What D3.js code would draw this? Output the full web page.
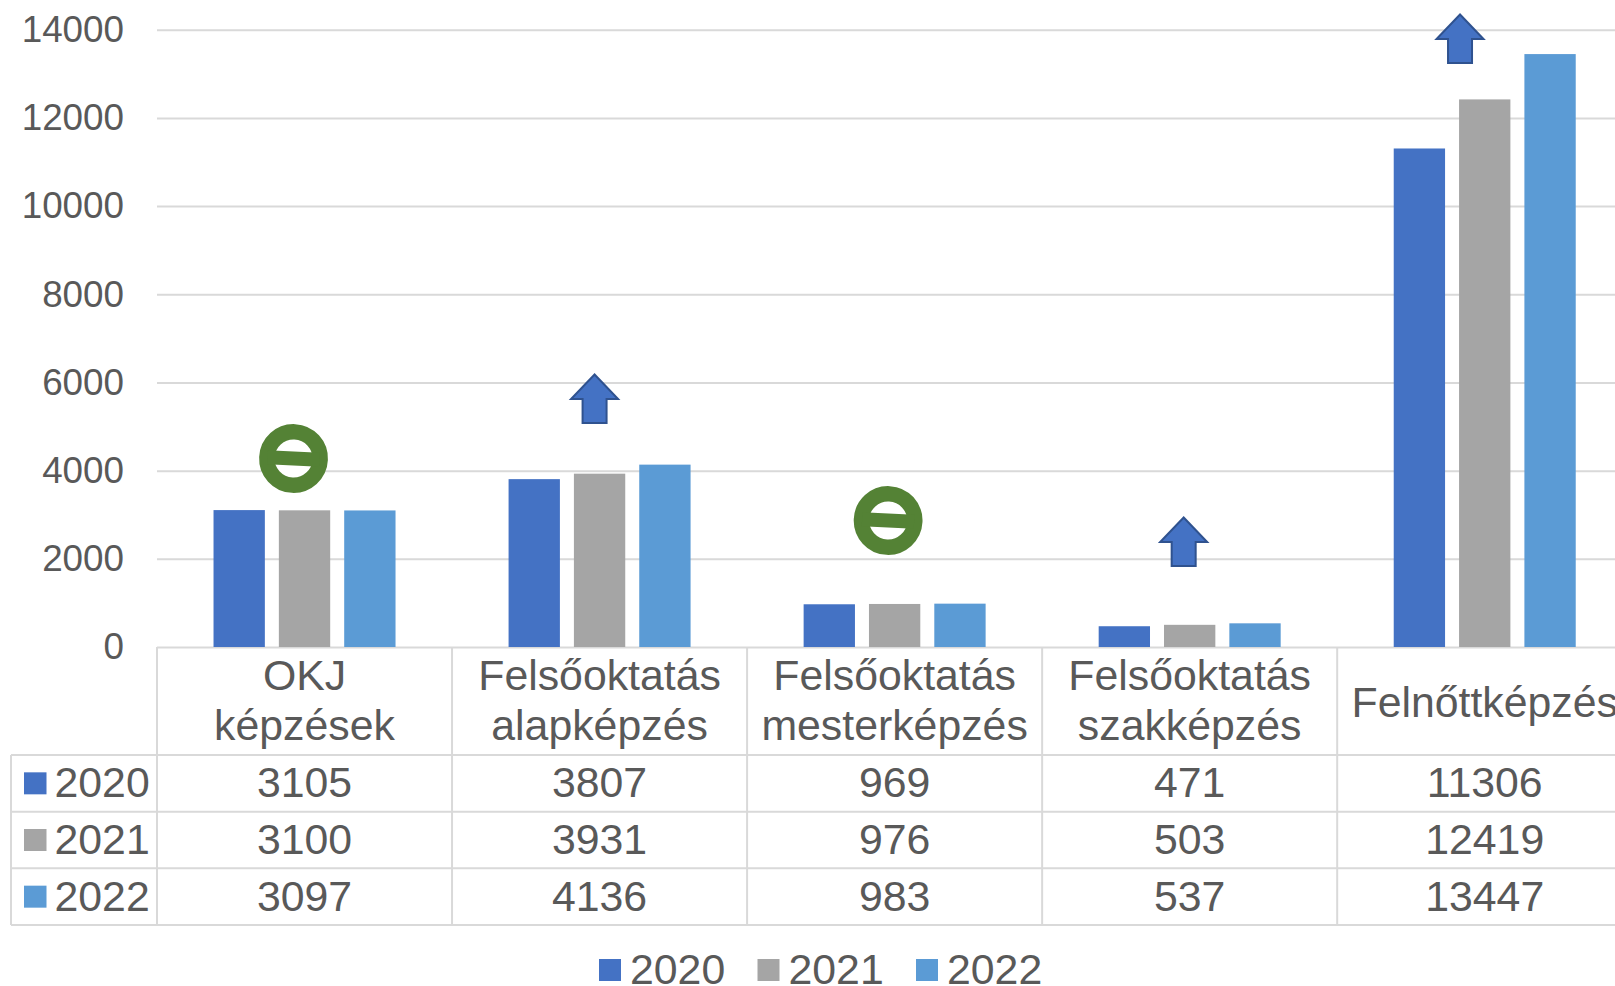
<!DOCTYPE html>
<html>
<head>
<meta charset="utf-8">
<title>Képzések</title>
<script src="https://cdnjs.cloudflare.com/ajax/libs/d3/7.8.5/d3.min.js"></script>
<style>
    html, body { margin: 0; padding: 0; background: #fff; overflow: hidden; }
    svg { display: block; }
    text { font-family: "Liberation Sans", Arial, sans-serif; fill: #595959; }
</style>
</head>
<body>
<div id="chart"></div>
<script>

var categories = [ 'OKJ képzések', 'Felsőoktatás alapképzés', 'Felsőoktatás mesterképzés', 'Felsőoktatás szakképzés', 'Felnőttképzés' ];
var categoryLines = [ [ 'OKJ', 'képzések' ], [ 'Felsőoktatás', 'alapképzés' ], [ 'Felsőoktatás', 'mesterképzés' ], [ 'Felsőoktatás', 'szakképzés' ], [ 'Felnőttképzés' ] ];
var years = [ '2020', '2021', '2022' ];
var values2020 = [ 3105, 3807, 969, 471, 11306 ];
var values2021 = [ 3100, 3931, 976, 503, 12419 ];
var values2022 = [ 3097, 4136, 983, 537, 13447 ];
var yTicks = [ 0, 2000, 4000, 6000, 8000, 10000, 12000, 14000 ];
var trend = [ 'same', 'up', 'same', 'up', 'up' ];

var seriesValues = [ values2020, values2021, values2022 ];
var colors = [ '#4472c4', '#a5a5a5', '#5b9bd5' ];

var width = 1615,
    height = 986,
    plotLeft = 157,
    colWidth = 295.05,
    tableLeft = 11,
    plotTop = 29.7,
    plotBottom = 647,
    headerBottom = 755,
    tableBottom = 925,
    tableFont = '42.8px',
    gridColor = '#d9d9d9';

var plotRight = plotLeft + colWidth * categories.length;

var svg = d3.select( '#chart' ).append( 'svg' )
    .attr( 'width', width )
    .attr( 'height', height );

var x = d3.scaleBand()
    .domain( categories )
    .range([ plotLeft, plotRight ]);

var barX = d3.scaleBand()
    .domain( years )
    .range([ -91, 91 ])
    .paddingInner( 0.2144 );

var y = d3.scaleLinear()
    .domain([ 0, 14000 ])
    .range([ plotBottom, plotTop ]);

var rowY = d3.scaleBand()
    .domain( years )
    .range([ headerBottom, tableBottom ]);

// y axis and grid

var yAxis = svg.append( 'g' )
    .attr( 'transform', 'translate(' + plotLeft + ',0)' )
    .call( d3.axisLeft( y ).tickValues( yTicks ).tickFormat( d3.format( 'd' ) ).tickSize( 0 ).tickPadding( 33 ) );

yAxis.select( '.domain' ).remove();

yAxis.selectAll( 'text' )
    .attr( 'dy', '11.8px' )
    .style( 'font-size', '36.8px' )
    .style( 'font-family', '"Liberation Sans", Arial, sans-serif' )
    .style( 'fill', '#595959' );

yAxis.selectAll( '.tick line' )
    .attr( 'x1', 0 )
    .attr( 'x2', plotRight - plotLeft )
    .attr( 'stroke', gridColor )
    .attr( 'stroke-width', 2 );

// bars

years.forEach( function ( year, s ) {

    svg.append( 'g' ).selectAll( 'rect' )
        .data( seriesValues[ s ] )
        .enter().append( 'rect' )
        .attr( 'x', function ( d, i ) { return x( categories[ i ] ) + x.bandwidth() / 2 + barX( year ); } )
        .attr( 'y', function ( d ) { return y( d ); } )
        .attr( 'width', barX.bandwidth() )
        .attr( 'height', function ( d ) { return y( 0 ) - y( d ); } )
        .style( 'fill', colors[ s ] );

});

// data table lines

var table = svg.append( 'g' )
    .attr( 'stroke', gridColor )
    .attr( 'stroke-width', 2 );

d3.range( categories.length + 1 ).forEach( function ( i ) {

    table.append( 'line' )
        .attr( 'x1', plotLeft + i * colWidth )
        .attr( 'x2', plotLeft + i * colWidth )
        .attr( 'y1', plotBottom )
        .attr( 'y2', tableBottom );

});

table.append( 'line' )
    .attr( 'x1', tableLeft )
    .attr( 'x2', tableLeft )
    .attr( 'y1', headerBottom )
    .attr( 'y2', tableBottom );

years.concat( [ 'end' ] ).forEach( function ( year, i ) {

    var lineY = i < years.length ? rowY( year ) : tableBottom;

    table.append( 'line' )
        .attr( 'x1', tableLeft )
        .attr( 'x2', plotRight )
        .attr( 'y1', lineY )
        .attr( 'y2', lineY );

});

// category labels

categoryLines.forEach( function ( lines, i ) {

    var baselines = lines.length === 2 ? [ 690, 740 ] : [ 716.5 ];

    lines.forEach( function ( line, k ) {

        svg.append( 'text' )
            .attr( 'x', x( categories[ i ] ) + x.bandwidth() / 2 )
            .attr( 'y', baselines[ k ] )
            .attr( 'text-anchor', 'middle' )
            .style( 'font-size', tableFont )
            .text( line );

    });

});

// table rows

years.forEach( function ( year, s ) {

    var middle = rowY( year ) + rowY.bandwidth() / 2;

    svg.append( 'rect' )
        .attr( 'x', 24 )
        .attr( 'y', middle - 11 )
        .attr( 'width', 22.5 )
        .attr( 'height', 22 )
        .style( 'fill', colors[ s ] );

    svg.append( 'text' )
        .attr( 'x', 54.5 )
        .attr( 'y', middle + 14 )
        .style( 'font-size', tableFont )
        .text( year );

    seriesValues[ s ].forEach( function ( d, i ) {

        svg.append( 'text' )
            .attr( 'x', x( categories[ i ] ) + x.bandwidth() / 2 )
            .attr( 'y', middle + 14 )
            .attr( 'text-anchor', 'middle' )
            .style( 'font-size', tableFont )
            .text( d );

    });

});

// bottom legend

var legendX = [ 599, 757.5, 916 ];

years.forEach( function ( year, s ) {

    svg.append( 'rect' )
        .attr( 'x', legendX[ s ] )
        .attr( 'y', 959 )
        .attr( 'width', 22 )
        .attr( 'height', 22 )
        .style( 'fill', colors[ s ] );

    svg.append( 'text' )
        .attr( 'x', legendX[ s ] + 31 )
        .attr( 'y', 984 )
        .style( 'font-size', tableFont )
        .text( year );

});

// trend signs drawn over the chart, placed by hand

var signX = [ -11, -5, -6.5, -6, -24.7 ];
var signY = [ 458.5, 374.5, 520.5, 517.5, 14.5 ];

trend.forEach( function ( kind, i ) {

    var g = svg.append( 'g' )
        .attr( 'transform', 'translate(' + ( x( categories[ i ] ) + x.bandwidth() / 2 + signX[ i ] ) + ',' + signY[ i ] + ')' );

    if ( kind === 'up' ) {

        g.append( 'path' )
            .attr( 'd', 'M0,0 L23.5,24.5 L12,24.5 L12,48.5 L-12,48.5 L-12,24.5 L-23.5,24.5 Z' )
            .style( 'fill', '#4472c4' )
            .style( 'stroke', '#2f528f' )
            .style( 'stroke-width', 2 );

    } else {

        g.attr( 'transform', g.attr( 'transform' ) + ' rotate(2.7)' );

        g.append( 'circle' )
            .attr( 'r', 26.7 )
            .style( 'fill', '#fff' )
            .style( 'stroke', '#548235' )
            .style( 'stroke-width', 15.4 );

        g.append( 'rect' )
            .attr( 'x', -26 )
            .attr( 'y', -7 )
            .attr( 'width', 52 )
            .attr( 'height', 14 )
            .style( 'fill', '#548235' );

    }

});

</script>
</body>
</html>
